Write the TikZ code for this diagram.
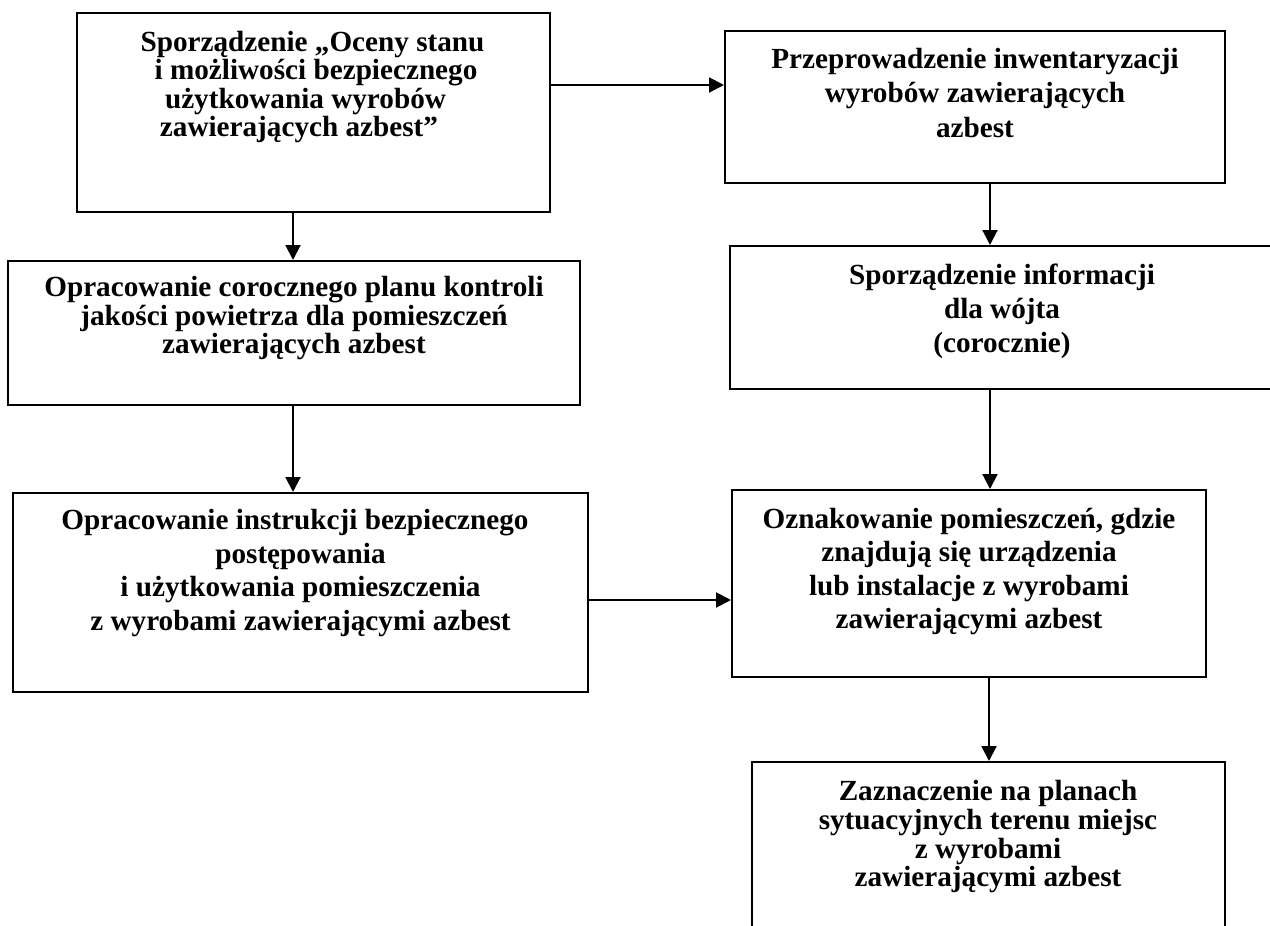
\documentclass[tikz,border=0pt]{standalone}
\usepackage{fontspec}
\setmainfont{Liberation Serif}
\usetikzlibrary{arrows.meta,calc}
\begin{document}
\begin{tikzpicture}[x=0.5pt,y=-0.5pt,
  box/.style={draw=black,line width=1pt,inner sep=0pt,rectangle},
  txt/.style={inner sep=0pt,align=center,anchor=north,text=black,
    font=\fontsize{14.6}{#1}\selectfont\bfseries},
  arr/.style={draw=black,line width=1pt,-{Triangle[length=7.5pt,width=7.5pt]}}]
\useasboundingbox (0,0) rectangle (1270,926);
% boxes
\node[box,minimum width=236.5pt,minimum height=99.5pt] (b1) at (313.5,112.5) {};
\node[box,minimum width=250pt,minimum height=76pt] (b2) at (975,107) {};
\node[box,minimum width=286pt,minimum height=72pt] (b3) at (294,333) {};
\node[box,minimum width=272pt,minimum height=71.5pt] (b4) at (1002,317.5) {};
\node[box,minimum width=287.5pt,minimum height=99.5pt] (b5) at (300.5,592.5) {};
\node[box,minimum width=237pt,minimum height=93.5pt] (b6) at (969,583.5) {};
\node[box,minimum width=236.5pt,minimum height=94pt] (b7) at (988.5,856) {};
% texts
\node[txt=12.85pt] (t1) at (316,21.5) {\rule{0pt}{1em}Sporządzenie „Oceny stanu\rule{3.5pt}{0pt}\\ i możliwości bezpiecznego\\ użytkowania wyrobów\rule{10.5pt}{0pt}\\ zawierających azbest”\rule{17pt}{0pt}};
\node[txt=17.25pt] (t2) at (975,38.8) {\rule{0pt}{1em}Przeprowadzenie inwentaryzacji\\ wyrobów zawierających\\ azbest};
\node[txt=13.15pt] (t3) at (294,266.8) {\rule{0pt}{1em}Opracowanie corocznego planu kontroli\\ jakości powietrza dla pomieszczeń\\ zawierających azbest};
\node[txt=16.9pt] (t4) at (1002,254.8) {\rule{0pt}{1em}Sporządzenie informacji\\ dla wójta\\ (corocznie)};
\node[txt=16.85pt] (t5) at (300.5,499.8) {\rule{0pt}{1em}Opracowanie instrukcji bezpiecznego\rule{5.5pt}{0pt}\\ postępowania\\ i użytkowania pomieszczenia\\ z wyrobami zawierającymi azbest};
\node[txt=16.75pt] (t6) at (969,498.8) {\rule{0pt}{1em}Oznakowanie pomieszczeń, gdzie\\ znajdują się urządzenia\\ lub instalacje z wyrobami\\ zawierającymi azbest};
\node[txt=14.4pt] (t7) at (988,770.8) {\rule{0pt}{1em}Zaznaczenie na planach\\ sytuacyjnych terenu miejsc\\ z wyrobami\\ zawierającymi azbest};
% connectors
\draw[arr] ([yshift=13.75pt]b1.east) -- ([yshift=11pt]b2.west);
\draw[arr] ([xshift=-10.25pt]b1.south) -- ([xshift=-10.25pt]b1.south |- b3.north);
\draw[arr] ([xshift=7.5pt]b2.south) -- ([xshift=7.5pt]b2.south |- b4.north);
\draw[arr] ([xshift=-0.5pt]b3.south) -- ([xshift=-0.5pt]b3.south |- b5.north);
\draw[arr] ([xshift=-6pt]b4.south) -- ([xshift=-6pt]b4.south |- b6.north);
\draw[arr] ([yshift=-3.75pt]b5.east) -- ([yshift=-3.75pt]b5.east -| b6.west);
\draw[arr] ([xshift=10pt]b6.south) -- ([xshift=10pt]b6.south |- b7.north);
\end{tikzpicture}
\end{document}
